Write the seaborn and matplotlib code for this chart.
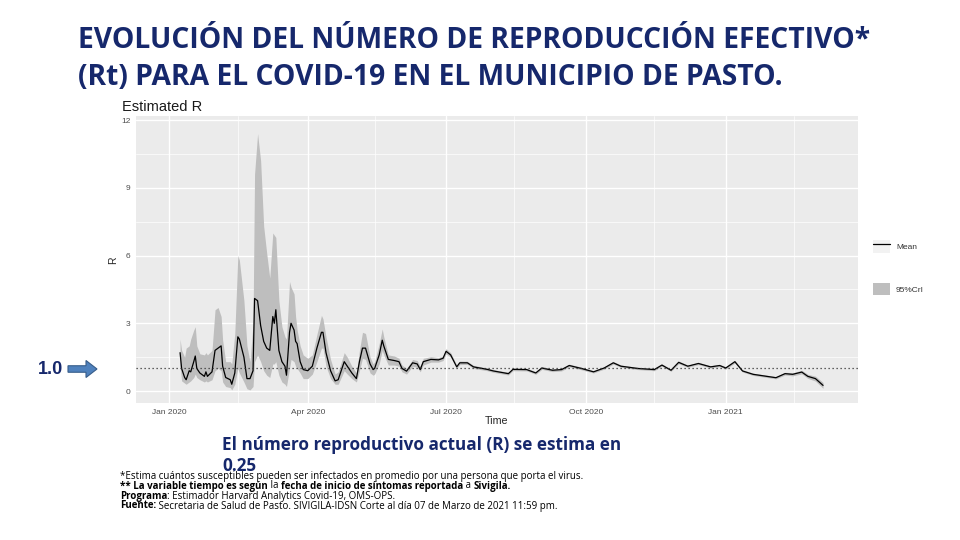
import matplotlib
matplotlib.use('Agg')
import matplotlib.pyplot as plt
import matplotlib.dates as mdates
import matplotlib.ticker as mticker
from matplotlib.patches import Patch, FancyArrow
from matplotlib.lines import Line2D
import seaborn as sns
import pandas as pd

# datos (R estimado y banda 95%CrI)
fechas = [
    '2020-01-08', '2020-01-09', '2020-01-11', '2020-01-12', '2020-01-14', '2020-01-15',
    '2020-01-17', '2020-01-18', '2020-01-19', '2020-01-21', '2020-01-24', '2020-01-25',
    '2020-01-26', '2020-01-29', '2020-01-31', '2020-02-02', '2020-02-04', '2020-02-05',
    '2020-02-07', '2020-02-10', '2020-02-11', '2020-02-13', '2020-02-15', '2020-02-16',
    '2020-02-19', '2020-02-21', '2020-02-23', '2020-02-25', '2020-02-26', '2020-02-28',
    '2020-03-01', '2020-03-03', '2020-03-05', '2020-03-07', '2020-03-09', '2020-03-10',
    '2020-03-11', '2020-03-13', '2020-03-15', '2020-03-17', '2020-03-18', '2020-03-20',
    '2020-03-21', '2020-03-23', '2020-03-24', '2020-03-25', '2020-03-27', '2020-03-29',
    '2020-04-01', '2020-04-04', '2020-04-07', '2020-04-10', '2020-04-11', '2020-04-13',
    '2020-04-16', '2020-04-19', '2020-04-21', '2020-04-25', '2020-04-27', '2020-04-30',
    '2020-05-03', '2020-05-05', '2020-05-07', '2020-05-09', '2020-05-12', '2020-05-14',
    '2020-05-15', '2020-05-18', '2020-05-20', '2020-05-21', '2020-05-24', '2020-05-28',
    '2020-05-31', '2020-06-02', '2020-06-05', '2020-06-09', '2020-06-12', '2020-06-14',
    '2020-06-16', '2020-06-21', '2020-06-26', '2020-06-29', '2020-07-01', '2020-07-04',
    '2020-07-08', '2020-07-10', '2020-07-15', '2020-07-19', '2020-07-28', '2020-08-01',
    '2020-08-11', '2020-08-14', '2020-08-23', '2020-08-29', '2020-09-02', '2020-09-09',
    '2020-09-15', '2020-09-20', '2020-09-28', '2020-10-06', '2020-10-13', '2020-10-19',
    '2020-10-24', '2020-11-04', '2020-11-15', '2020-11-20', '2020-11-26', '2020-12-01',
    '2020-12-07', '2020-12-14', '2020-12-22', '2020-12-28', '2021-01-01', '2021-01-07',
    '2021-01-12', '2021-01-19', '2021-01-28', '2021-02-03', '2021-02-09', '2021-02-14',
    '2021-02-20', '2021-02-24', '2021-03-01', '2021-03-06',
]
r_media = [
    1.7, 1.0, 0.6, 0.5, 0.9, 0.85,
    1.3, 1.55, 1.0, 0.8, 0.65, 0.85,
    0.65, 0.85, 1.8, 1.9, 2.0, 1.1,
    0.6, 0.5, 0.3, 0.8, 2.4, 2.3,
    1.5, 0.55, 0.55, 0.9, 4.1, 4.0,
    2.9, 2.2, 1.9, 1.8, 3.3, 3.0,
    3.6, 1.8, 1.3, 1.1, 0.7, 2.6,
    3.0, 2.7, 2.2, 2.1, 1.3, 0.95,
    0.9, 1.1, 1.9, 2.6, 2.6, 1.7,
    0.9, 0.45, 0.5, 1.3, 1.1, 0.8,
    0.55, 1.3, 1.9, 1.9, 1.2, 0.95,
    1.0, 1.6, 2.25, 2.0, 1.4, 1.35,
    1.3, 1.0, 0.88, 1.25, 1.2, 0.95,
    1.3, 1.4, 1.38, 1.45, 1.76, 1.6,
    1.07, 1.25, 1.25, 1.07, 0.96, 0.89,
    0.77, 0.96, 0.95, 0.8, 1.02, 0.92,
    0.95, 1.13, 1.0, 0.85, 1.02, 1.25,
    1.1, 1.0, 0.95, 1.15, 0.92, 1.27,
    1.1, 1.22, 1.07, 1.13, 1.02, 1.3,
    0.89, 0.74, 0.65, 0.59, 0.77, 0.74,
    0.84, 0.65, 0.55, 0.25,
]
r_inf = [
    1.1, 0.45, 0.35, 0.3, 0.4, 0.45,
    0.6, 0.75, 0.6, 0.5, 0.4, 0.45,
    0.4, 0.5, 0.9, 1.0, 0.9, 0.4,
    0.2, 0.15, 0.05, 0.3, 1.0, 0.8,
    0.4, 0.1, 0.05, 0.2, 1.3, 1.6,
    1.3, 0.9, 0.7, 0.6, 1.2, 1.2,
    1.3, 0.7, 0.4, 0.3, 0.2, 1.0,
    1.4, 1.3, 1.1, 1.0, 0.8, 0.55,
    0.55, 0.75, 1.3, 1.9, 1.9, 1.1,
    0.55, 0.3, 0.3, 0.9, 0.75, 0.55,
    0.4, 0.9, 1.45, 1.4, 0.8, 0.7,
    0.75, 1.2, 1.8, 1.6, 1.15, 1.15,
    1.1, 0.85, 0.75, 1.1, 1.05, 0.85,
    1.15, 1.28, 1.28, 1.35, 1.65, 1.5,
    1.0, 1.17, 1.18, 1.0, 0.9, 0.83,
    0.71, 0.9, 0.89, 0.74, 0.96, 0.86,
    0.89, 1.07, 0.94, 0.8, 0.97, 1.19,
    1.05, 0.95, 0.9, 1.1, 0.87, 1.21,
    1.05, 1.17, 1.02, 1.08, 0.97, 1.24,
    0.84, 0.69, 0.6, 0.54, 0.71, 0.67,
    0.76, 0.56, 0.44, 0.12,
]
r_sup = [
    2.3, 1.8, 1.5, 1.9, 2.0, 2.3,
    2.7, 2.85, 2.0, 1.65, 1.6, 1.7,
    1.6, 1.8, 3.6, 3.7, 3.3, 2.25,
    1.3, 1.3, 1.2, 2.55, 6.0, 5.8,
    4.0, 2.0, 1.3, 3.0, 9.6, 11.4,
    10.2, 7.3, 6.1, 5.0, 7.0, 6.9,
    6.8, 4.0, 2.85, 2.4, 2.3, 4.85,
    4.6, 4.3, 3.3, 2.7, 2.0, 1.6,
    1.45, 1.6, 2.5, 3.35, 3.2, 2.4,
    1.4, 0.75, 0.85, 1.7, 1.5, 1.1,
    0.8, 1.8, 2.6, 2.55, 1.5, 1.2,
    1.3, 2.1, 2.75, 2.4, 1.6, 1.55,
    1.45, 1.15, 1.0, 1.4, 1.35, 1.1,
    1.45, 1.52, 1.48, 1.55, 1.88, 1.7,
    1.15, 1.33, 1.32, 1.14, 1.02, 0.95,
    0.83, 1.02, 1.01, 0.86, 1.08, 0.98,
    1.01, 1.19, 1.06, 0.9, 1.07, 1.31,
    1.15, 1.05, 1.0, 1.2, 0.97, 1.33,
    1.15, 1.27, 1.12, 1.18, 1.07, 1.36,
    0.94, 0.79, 0.7, 0.64, 0.83, 0.81,
    0.92, 0.74, 0.66, 0.38,
]

y_ticks = [0, 3, 6, 9, 12]
x_lim = ['2019-12-10', '2021-03-29']
r_actual = '0.25'

df = pd.DataFrame({'fecha': pd.to_datetime(fechas), 'media': r_media,
                   'inf': r_inf, 'sup': r_sup})

AZUL = '#16286C'
GRIS_TXT = '#4D4D4D'
BANDA = '#BEBEBE'

sns.set_style('darkgrid', {'axes.facecolor': '#EBEBEB', 'grid.color': 'white'})
plt.rcParams['font.family'] = ['Liberation Sans', 'DejaVu Sans']

fig = plt.figure(figsize=(9.6, 5.4), dpi=100)
fig.patch.set_facecolor('white')

ax = fig.add_axes([136 / 960, 1 - 403 / 540, 722 / 960, 287 / 540])
ax.fill_between(df['fecha'], df['inf'], df['sup'], color=BANDA, lw=0, zorder=2)
sns.lineplot(data=df, x='fecha', y='media', color='black', linewidth=0.9, ax=ax, zorder=3)
ax.axhline(1, color='#333333', ls=(0, (1, 2.2)), lw=0.9, zorder=4)

ax.set_xlim(pd.to_datetime(x_lim[0]), pd.to_datetime(x_lim[1]))
ax.set_ylim(-0.53, 12.18)
ax.set_yticks(y_ticks)
ax.yaxis.set_minor_locator(mticker.MultipleLocator(1.5))
ax.xaxis.set_major_locator(mdates.MonthLocator(bymonth=[1, 4, 7, 10]))
ax.xaxis.set_major_formatter(mdates.DateFormatter('%b %Y'))
ax.xaxis.set_minor_locator(mdates.MonthLocator(bymonth=[2, 5, 8, 11], bymonthday=15))
ax.grid(which='major', color='white', lw=1.0)
ax.grid(which='minor', color='white', lw=0.5)
ax.tick_params(axis='both', which='major', labelsize=6, labelcolor=GRIS_TXT,
               color='#333333', length=2.5, width=0.6, pad=1.5)
ax.tick_params(axis='both', which='minor', length=0)
for s in ax.spines.values():
    s.set_visible(False)
ax.set_xlabel('')
ax.set_ylabel('')

fig.text(122 / 960, 1 - 107 / 540, 'Estimated R', fontsize=10.5, va='center', color='#1A1A1A')
fig.text(113 / 960, 1 - 260 / 540, 'R', fontsize=7.5, rotation=90, ha='center', va='center')
fig.text(497 / 960, 1 - 421 / 540, 'Time', fontsize=7.7, ha='center', va='center')

# leyenda
h_media = (Patch(facecolor='#F2F2F2', edgecolor='none'), Line2D([], [], color='black', lw=0.9))
h_banda = Patch(facecolor=BANDA, edgecolor='none')
fig.legend([h_media, h_banda], ['Mean', '95%CrI'], loc='center left',
           bbox_to_anchor=(873 / 960, 1 - 267.5 / 540), frameon=False, fontsize=6,
           labelcolor='#333333', handlelength=2.0, handleheight=2.0, labelspacing=3.6,
           handletextpad=0.75, borderpad=0, borderaxespad=0)

# titulo
titulo = ['EVOLUCIÓN DEL NÚMERO DE REPRODUCCIÓN EFECTIVO*',
          '(Rt) PARA EL COVID-19 EN EL MUNICIPIO DE PASTO.']
fig.text(78 / 960, 1 - 41 / 540, titulo[0], fontsize=20.3, fontweight='bold', color=AZUL,
         va='center', family=['Liberation Sans Narrow', 'Open Sans', 'DejaVu Sans'])
fig.text(78 / 960, 1 - 78 / 540, titulo[1], fontsize=20.3, fontweight='bold', color=AZUL,
         va='center', family=['Liberation Sans Narrow', 'Open Sans', 'DejaVu Sans'])

# marca 1.0 con flecha
fig.text(38 / 960, 1 - 369 / 540, '1.0', fontsize=13, fontweight='bold', color=AZUL,
         va='center')
flecha = FancyArrow(0.68, 1.71, 0.18, 0, width=0.065, head_width=0.17, head_length=0.11,
                    length_includes_head=False, facecolor='#4F81BD', edgecolor='#385D8A',
                    lw=0.8, transform=fig.dpi_scale_trans)
fig.add_artist(flecha)

# texto inferior
fig.text(222 / 960, 1 - 445 / 540, 'El número reproductivo actual (R) se estima en',
         fontsize=12.3, fontweight='bold', color=AZUL, va='center', family=['Open Sans', 'DejaVu Sans'])
fig.text(222 / 960, 1 - 466 / 540, r_actual, fontsize=12.3, fontweight='bold', color=AZUL,
         va='center', family=['Open Sans', 'DejaVu Sans'])

notas = [
    [('*Estima cuántos susceptibles pueden ser infectados en promedio por una persona que porta el virus.', 'normal')],
    [('** La variable tiempo es según', 'bold'), (' la ', 'normal'), ('fecha de inicio de síntomas reportada', 'bold'),
     (' a ', 'normal'), ('Sivigila.', 'bold')],
    [('Programa', 'bold'), (': Estimador Harvard Analytics Covid-19, OMS-OPS.', 'normal')],
    [('Fuente:', 'bold'), (' Secretaria de Salud de Pasto. SIVIGILA-IDSN Corte al día 07 de Marzo de 2021 11:59 pm.', 'normal')],
]
renderer = fig.canvas.get_renderer()
y_notas = [476, 486, 496, 506]
for linea, yp in zip(notas, y_notas):
    x = 120 / 960
    for txt, peso in linea:
        t = fig.text(x, 1 - yp / 540, txt, fontsize=7.0, fontweight=peso, color='black',
                     va='center', family=['Open Sans', 'DejaVu Sans'])
        bb = t.get_window_extent(renderer)
        x = bb.x1 / fig.bbox.width

fig.savefig('out.png', dpi=100)
